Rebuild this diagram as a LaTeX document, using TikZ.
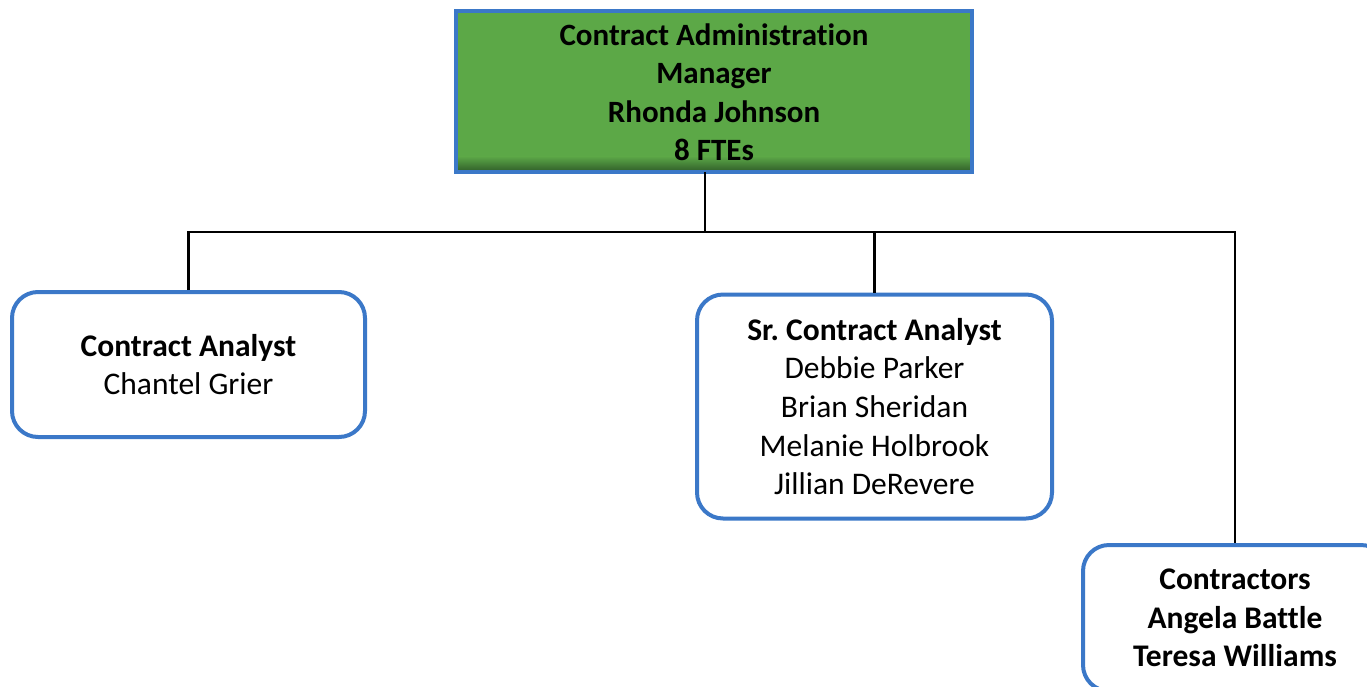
\documentclass[tikz,border=0pt]{standalone}
\usepackage{fontspec}
\setmainfont[Ligatures=NoCommon]{Carlito}
\frenchspacing
\definecolor{boxblue}{HTML}{3B78C8}
\definecolor{mgrgreen}{HTML}{5CA847}
\definecolor{mgrdark}{HTML}{2E5A28}
\begin{document}
\begin{tikzpicture}[x=1pt,y=-1pt,
  txt/.style={font=\fontsize{31.5}{38.7}\selectfont, align=center, inner sep=0pt},
  unitbox/.style={txt, draw=boxblue, line width=4pt, rounded corners=26pt, fill=white},
  link/.style={draw=black, line width=2.6pt}]
\useasboundingbox (0,0) rectangle (1367,686);
\clip (0,0) rectangle (1367,686);
\fill[white] (0,0) rectangle (1367,686);

% manager box with darker lower edge
\node[txt, minimum width=516pt, minimum height=161pt, fill=mgrgreen]
  (mgr) at (714,91.5) {};
\shade[top color=mgrgreen, bottom color=mgrdark]
  ([yshift=16pt]mgr.south west) rectangle (mgr.south east);
\draw[boxblue, line width=4pt] (mgr.south west) rectangle (mgr.north east);
\node[txt, font=\fontsize{31}{38.5}\selectfont\bfseries] (mgrtext) at (714,92)
  {Contract Administration\\Manager\\Rhonda Johnson\\8 FTEs};

% staff boxes
\node[unitbox, minimum width=353pt, minimum height=145pt] (ca) at (188.5,364.5)
  {\textbf{Contract Analyst}\\Chantel Grier};
\node[unitbox, minimum width=355pt, minimum height=224pt] (sca) at (874.5,406.5)
  {\textbf{Sr. Contract Analyst}\\Debbie Parker\\Brian Sheridan\\Melanie Holbrook\\Jillian DeRevere};
\node[unitbox, minimum width=304pt, minimum height=146pt, font=\fontsize{31.5}{38.7}\selectfont\bfseries] (con) at (1235,618)
  {Contractors\\Angela Battle\\Teresa Williams};

% reporting lines
\coordinate (bus) at (705,232);
\draw[link] ([xshift=-9pt]mgr.south) -- (bus);
\draw[link] (ca.north) |- (bus) -| (con.north);
\draw[link] (sca.north) -- (sca.north |- bus);
\end{tikzpicture}
\end{document}
